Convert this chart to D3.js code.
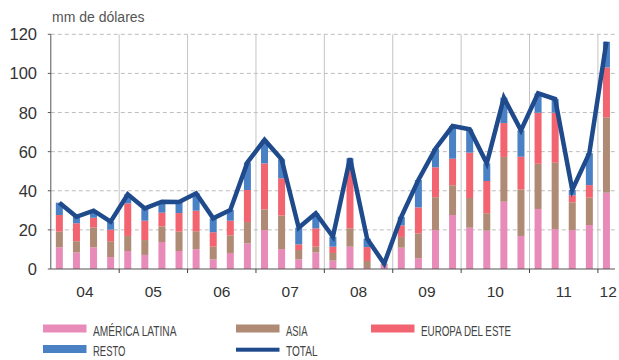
<!DOCTYPE html>
<html>
<head>
<meta charset="utf-8">
<script src="https://cdn.jsdelivr.net/npm/d3@7"></script>
<style>
  body { margin: 0; background: #fff; }
  svg { display: block; font-family: "Liberation Sans", Arial, sans-serif; }
</style>
</head>
<body>
<svg id="chart" width="619" height="360"></svg>
<script>
// quarterly data, 2004 Q1 .. 2012 Q1 (mm de dólares)
var years = ["04", "05", "06", "07", "08", "09", "10", "11", "12"];
var latam  = [11.1, 8.5, 11.1, 6.1, 9.2, 7.2, 13.8, 9.2, 10.1, 4.9, 8.2, 13.1, 19.9, 10.2, 4.9, 8.5, 4.3, 11.4, 0.5, 1.7, 10.9, 5.5, 19.9, 27.6, 21.1, 19.6, 34.4, 16.9, 30.7, 20.4, 19.9, 22.5, 39.0];
var asia   = [8.0, 5.7, 10.2, 8.1, 7.7, 7.6, 8.0, 9.9, 9.2, 6.5, 9.0, 10.9, 10.6, 17.1, 4.8, 2.9, 3.9, 9.4, 3.6, 0.5, 5.5, 12.7, 16.8, 15.2, 15.2, 8.9, 22.9, 23.8, 23.1, 33.9, 14.2, 14.0, 38.6];
var europa = [8.5, 9.2, 4.9, 5.9, 16.7, 9.9, 7.0, 9.5, 10.5, 7.4, 7.5, 16.4, 23.5, 19.1, 2.9, 9.4, 3.2, 31.5, 7.1, 0.3, 5.9, 13.3, 15.3, 13.6, 23.2, 16.5, 17.3, 16.7, 26.1, 25.6, 3.6, 6.4, 25.5];
var resto  = [6.3, 3.3, 3.6, 4.1, 4.6, 6.3, 5.6, 5.7, 8.9, 7.1, 5.5, 14.1, 12.0, 9.7, 8.5, 7.7, 5.1, 4.3, 4.3, 0.2, 4.4, 14.0, 9.5, 16.7, 11.9, 9.0, 13.0, 13.5, 9.9, 7.0, 2.7, 16.3, 13.1];
var total  = [33.9, 26.7, 29.8, 24.2, 38.2, 31.0, 34.4, 34.3, 38.7, 25.9, 30.2, 54.5, 66.0, 56.1, 21.1, 28.5, 16.5, 56.6, 15.5, 2.7, 26.7, 45.5, 61.5, 73.1, 71.4, 54.0, 87.6, 70.9, 89.8, 86.9, 40.4, 59.2, 116.2];
var yTicks = [0, 20, 40, 60, 80, 100, 120];

var seriesNames = ["AMÉRICA LATINA", "ASIA", "EUROPA DEL ESTE", "RESTO"];
var colors = ["#e98bb9", "#af8a74", "#f2646f", "#4a80c4"];
var totalColor = "#1f4a8b";

var svg = d3.select("#chart");
var n = total.length;
var plotLeft = 50.8, plotRight = 615, plotTop = 34.3, plotBottom = 269;

var x = d3.scaleLinear().domain([0, n]).range([plotLeft, plotRight]);
var y = d3.scaleLinear().domain([0, 120]).range([plotBottom, plotTop]);
var barW = 7;

/**
 * Grid: dashed horizontals, solid year separators.
 */
svg.append("g").selectAll("line").data(yTicks.filter(function (d) { return d > 0; }))
    .join("line")
    .attr("x1", plotLeft).attr("x2", plotRight)
    .attr("y1", function (d) { return y(d); }).attr("y2", function (d) { return y(d); })
    .attr("stroke", "#bdbdbd").attr("stroke-width", 1).attr("stroke-dasharray", "4,3");

var yearIdx = d3.range(1, years.length).map(function (k) { return k * 4; });
svg.append("g").selectAll("line").data(yearIdx)
    .join("line")
    .attr("x1", function (d) { return x(d); }).attr("x2", function (d) { return x(d); })
    .attr("y1", plotTop).attr("y2", plotBottom)
    .attr("stroke", "#c4c4c4").attr("stroke-width", 1);

/**
 * Stacked bars.
 */
var rows = d3.range(n).map(function (i) {
    return { i: i, a: latam[i], b: asia[i], c: europa[i], d: resto[i] };
});
var stack = d3.stack().keys(["a", "b", "c", "d"])(rows);

svg.append("g").selectAll("g").data(stack)
    .join("g")
    .attr("fill", function (d, k) { return colors[k]; })
    .selectAll("rect").data(function (d) { return d; })
    .join("rect")
    .attr("x", function (d) { return x(d.data.i + 0.5) - barW / 2; })
    .attr("width", barW)
    .attr("y", function (d) { return y(d[1]); })
    .attr("height", function (d) { return Math.max(0, y(d[0]) - y(d[1])); });

/**
 * Axes lines.
 */
svg.append("line").attr("x1", plotLeft).attr("x2", plotLeft).attr("y1", plotTop).attr("y2", plotBottom)
    .attr("stroke", "#555").attr("stroke-width", 1);
svg.append("line").attr("x1", plotLeft).attr("x2", plotRight).attr("y1", plotBottom).attr("y2", plotBottom)
    .attr("stroke", "#555").attr("stroke-width", 1.2);
svg.append("g").selectAll("line").data(yearIdx)
    .join("line")
    .attr("x1", function (d) { return x(d); }).attr("x2", function (d) { return x(d); })
    .attr("y1", plotBottom).attr("y2", plotBottom + 4)
    .attr("stroke", "#444").attr("stroke-width", 1);
svg.append("g").selectAll("line").data(yTicks)
    .join("line")
    .attr("x1", plotLeft - 3).attr("x2", plotLeft)
    .attr("y1", function (d) { return y(d); }).attr("y2", function (d) { return y(d); })
    .attr("stroke", "#555");

/**
 * Total line.
 */
var line = d3.line()
    .x(function (d, i) { return x(i + 0.5); })
    .y(function (d) { return y(d); });
svg.append("path").datum(total)
    .attr("d", line)
    .attr("fill", "none")
    .attr("stroke", totalColor)
    .attr("stroke-width", 4.5)
    .attr("stroke-linejoin", "miter");

/**
 * Labels.
 */
svg.append("g").selectAll("text").data(yTicks)
    .join("text")
    .attr("x", 37).attr("y", function (d) { return y(d) + 6; })
    .attr("text-anchor", "end")
    .attr("font-size", 16.5).attr("fill", "#333")
    .text(function (d) { return d; });

svg.append("text").attr("x", 52).attr("y", 21.5)
    .attr("font-size", 14).attr("fill", "#555")
    .text("mm de dólares");

svg.append("g").selectAll("text").data(years)
    .join("text")
    .attr("x", function (d, k) { return k < years.length - 1 ? x(k * 4 + 2) : x(k * 4 + 0.6); })
    .attr("y", 297)
    .attr("text-anchor", "middle")
    .attr("font-size", 15.5).attr("fill", "#333")
    .text(function (d) { return d; });

/**
 * Legend.
 */
var legend = [
    { name: seriesNames[0], color: colors[0], x: 43, y: 324.5, w: 83.5, h: 8 },
    { name: seriesNames[1], color: colors[1], x: 236, y: 324.5, w: 21.5, h: 8 },
    { name: seriesNames[2], color: colors[2], x: 371, y: 324.5, w: 90, h: 8 },
    { name: seriesNames[3], color: colors[3], x: 43, y: 345, w: 32.5, h: 8 },
    { name: "TOTAL", color: totalColor, x: 236, y: 347.7, w: 31.5, h: 4 }
];
var lg = svg.append("g").selectAll("g").data(legend).join("g");
lg.append("rect")
    .attr("x", function (d) { return d.x; }).attr("y", function (d) { return d.y; })
    .attr("width", 43.5).attr("height", function (d) { return d.h; })
    .attr("fill", function (d) { return d.color; });
lg.append("text")
    .attr("x", function (d) { return d.x + 50; })
    .attr("y", function (d) { return d.y < 340 ? 335.5 : 356; })
    .attr("font-size", 15.5).attr("fill", "#444")
    .attr("textLength", function (d) { return d.w; })
    .attr("lengthAdjust", "spacingAndGlyphs")
    .text(function (d) { return d.name; });
</script>
</body>
</html>
